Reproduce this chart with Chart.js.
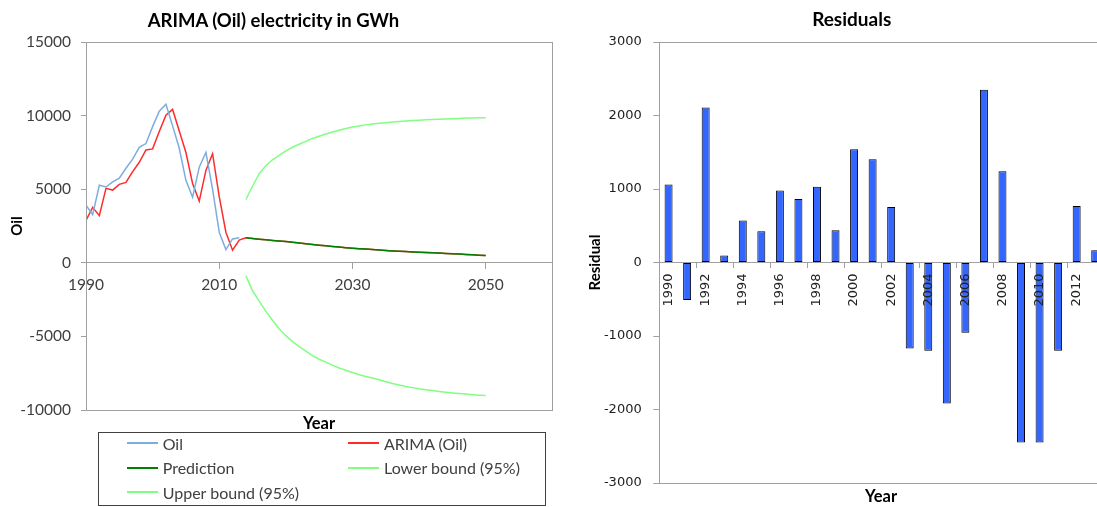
<!DOCTYPE html>
<html>
<head>
<meta charset="utf-8">
<title>ARIMA (Oil) electricity in GWh</title>
<script src="https://cdn.jsdelivr.net/npm/chart.js@4.4.1/dist/chart.umd.min.js"></script>
<style>
  html, body { margin: 0; padding: 0; background: #fff; overflow: hidden; }
  #wrap { position: relative; width: 1097px; height: 507px; overflow: hidden; background: #fff; }
  #leftCanvas { position: absolute; left: 0; top: 0; }
  #rightCanvas { position: absolute; left: 560px; top: 0; }
  .label { position: absolute; font-family: Lato, sans-serif; font-weight: bold; color: #000;
           white-space: nowrap; transform: translate(-50%, -50%); line-height: 1.2; }
  #legend { position: absolute; left: 98px; top: 432px; width: 448px; height: 74px;
            border: 1px solid #404040; box-sizing: border-box; }
  .item { position: absolute; height: 20px; display: flex; align-items: center;
          font-family: Lato, sans-serif; font-size: 16px; color: #404040; white-space: nowrap; }
  .item .swatch { display: inline-block; width: 31px; height: 2px; margin-right: 5px; }
</style>
</head>
<body>
<div id="wrap">
  <canvas id="leftCanvas" width="560" height="507"></canvas>
  <canvas id="rightCanvas" width="560" height="507"></canvas>
  <div class="label" style="left:273.5px; top:20px; font-size:18.5px;">ARIMA (Oil) electricity in GWh</div>
  <div class="label" style="left:851.7px; top:19px; font-size:19px;">Residuals</div>
  <div class="label" style="left:319px; top:424px; font-size:16.5px;">Year</div>
  <div class="label" style="left:881px; top:497px; font-size:16.5px;">Year</div>
  <div id="legend"></div>
</div>
<script>
// Observed oil electricity (GWh) and the ARIMA in-sample fit
const obsYears = [1990, 1991, 1992, 1993, 1994, 1995, 1996, 1997, 1998, 1999, 2000, 2001,
                  2002, 2003, 2004, 2005, 2006, 2007, 2008, 2009, 2010, 2011, 2012, 2013];
const oil = [3920, 3270, 5270, 5150, 5500, 5750, 6420, 7040, 7840, 8100, 9250, 10300,
             10770, 9300, 7780, 5600, 4450, 6500, 7500, 5000, 2080, 900, 1620, 1700];
const arimaFit = [2880, 3770, 3200, 5055, 4940, 5330, 5460, 6190, 6830, 7670, 7740, 8920,
                  10030, 10420, 8960, 7490, 5390, 4190, 6280, 7410, 4490, 2080, 860, 1540];

// Forecast horizon with 95% interval
const forecastYears = [2014, 2015, 2016, 2017, 2018, 2019, 2020, 2021, 2022, 2023, 2024, 2025,
                       2026, 2027, 2028, 2029, 2030, 2031, 2032, 2033, 2034, 2035, 2036, 2037,
                       2038, 2039, 2040, 2041, 2042, 2043, 2044, 2045, 2046, 2047, 2048, 2049, 2050];
const prediction = [1700, 1650, 1600, 1560, 1520, 1480, 1440, 1390, 1340, 1290, 1240, 1190,
                    1150, 1110, 1070, 1030, 990, 960, 930, 900, 870, 840, 810, 780,
                    760, 740, 720, 700, 680, 660, 640, 610, 590, 570, 540, 510, 490];
const lowerBound = [-890, -1900, -2600, -3300, -3900, -4500, -4950, -5350, -5700, -6000, -6300, -6550,
                    -6750, -6950, -7150, -7300, -7450, -7600, -7720, -7830, -7950, -8080, -8200, -8300,
                    -8400, -8480, -8560, -8620, -8680, -8740, -8790, -8840, -8880, -8920, -8960, -8990, -9020];
const upperBound = [4300, 5200, 6050, 6600, 7000, 7300, 7600, 7850, 8050, 8250, 8450, 8600,
                    8750, 8880, 9000, 9120, 9230, 9300, 9370, 9430, 9480, 9520, 9560, 9600,
                    9630, 9660, 9690, 9710, 9730, 9750, 9770, 9790, 9810, 9830, 9840, 9850, 9860];

// Year ticks shown on the forecast chart
const yearTicks = [1990, 2010, 2030, 2050];

// Residuals of the fit, one bar per year
const residualYears = ['1990', '1991', '1992', '1993', '1994', '1995', '1996', '1997', '1998', '1999',
                       '2000', '2001', '2002', '2003', '2004', '2005', '2006', '2007', '2008', '2009',
                       '2010', '2011', '2012', '2013'];
const residuals = [1060, -510, 2110, 95, 570, 425, 980, 865, 1030, 440, 1540, 1405,
                   755, -1170, -1200, -1920, -955, 2350, 1240, -2450, -2450, -1200, 770, 165];

const AXIS_GREY = '#a0a0a0';

const toPoints = (xs, ys) => xs.map((x, i) => ({ x: x, y: ys[i] }));

// Grey frame around the plot area
const plotFrame = {
  id: 'plotFrame',
  afterDraw(chart) {
    const { ctx, chartArea: a } = chart;
    ctx.save();
    ctx.strokeStyle = AXIS_GREY;
    ctx.lineWidth = 1;
    ctx.strokeRect(Math.round(a.left) + 0.5, Math.round(a.top) + 0.5,
                   Math.round(a.right - a.left), Math.round(a.bottom - a.top));
    ctx.restore();
  }
};

function lineSet(label, xs, ys, color, order) {
  return {
    label: label, data: toPoints(xs, ys), borderColor: color, backgroundColor: color,
    borderWidth: 1.5, pointRadius: 0, tension: 0, fill: false, order: order
  };
}

function build() {
  const forecastChart = new Chart(document.getElementById('leftCanvas'), {
    type: 'line',
    data: {
      datasets: [
        lineSet('Oil', obsYears, oil, '#7aaee0', 1),
        lineSet('ARIMA (Oil)', obsYears.concat(forecastYears), arimaFit.concat(prediction), '#ff2b2b', 2),
        lineSet('Prediction', forecastYears, prediction, '#008000', 0),
        lineSet('Lower bound (95%)', forecastYears, lowerBound, '#80ff80', 3),
        lineSet('Upper bound (95%)', forecastYears, upperBound, '#80ff80', 3)
      ]
    },
    options: {
      responsive: false, animation: false,
      layout: { padding: { top: 42, bottom: 97, left: 0, right: 7.7 } },
      plugins: { legend: { display: false }, tooltip: { enabled: false }, title: { display: false } },
      scales: {
        x: {
          type: 'linear', position: { y: 0 }, min: 1990, max: 2060,
          afterBuildTicks: (s) => { s.ticks = yearTicks.map(v => ({ value: v })); },
          ticks: { padding: 7, color: '#404040', font: { family: 'Lato', size: 15.5 },
                   callback: (v) => String(v), autoSkip: false, maxRotation: 0 },
          grid: { drawOnChartArea: false, tickLength: 6, color: AXIS_GREY },
          border: { color: AXIS_GREY }
        },
        y: {
          min: -10000, max: 15000,
          afterFit: (s) => { s.width = 86; },
          ticks: { stepSize: 5000, padding: 10, color: '#404040', font: { family: 'Lato', size: 15.5 },
                   callback: (v) => String(v) },
          grid: { drawOnChartArea: false, tickLength: 5, color: AXIS_GREY },
          border: { color: AXIS_GREY },
          title: { display: true, text: 'Oil', color: '#000',
                   font: { family: 'Lato', size: 15, weight: 'bold' }, padding: { top: 8, bottom: 0 } }
        }
      }
    },
    plugins: [plotFrame]
  });

  // Legend in two columns, built from the chart's datasets
  const legend = document.getElementById('legend');
  const colX = [126.7 - 99, 348 - 99];
  const rowY = [443.3 - 433, 467.7 - 433, 492.3 - 433];
  forecastChart.data.datasets.forEach((ds, i) => {
    const item = document.createElement('div');
    item.className = 'item';
    item.style.left = colX[i % 2] + 'px';
    item.style.top = (rowY[Math.floor(i / 2)] - 10) + 'px';
    const sw = document.createElement('span');
    sw.className = 'swatch';
    sw.style.background = ds.borderColor;
    const tx = document.createElement('span');
    tx.textContent = ds.label;
    item.appendChild(sw);
    item.appendChild(tx);
    legend.appendChild(item);
  });

  new Chart(document.getElementById('rightCanvas'), {
    type: 'bar',
    data: {
      labels: residualYears,
      datasets: [{
        label: 'Residual', data: residuals,
        backgroundColor: '#3366ff', borderColor: '#000000', borderWidth: 1, borderSkipped: false,
        barPercentage: 0.43, categoryPercentage: 1
      }]
    },
    options: {
      responsive: false, animation: false,
      layout: { padding: { top: 42, bottom: 24, left: 0, right: 15.5 } },
      plugins: { legend: { display: false }, tooltip: { enabled: false }, title: { display: false } },
      scales: {
        x: {
          position: { y: 0 },
          ticks: {
            z: 1, autoSkip: false, minRotation: 90, maxRotation: 90, padding: 6, color: '#222',
            font: { family: 'DejaVu Sans', size: 13 },
            callback: function (v, i) { return i % 2 === 0 ? this.getLabelForValue(v) : ''; }
          },
          grid: {
            z: 1, drawOnChartArea: false, tickLength: 5, offset: true,
            color: (c) => (c.index % 2 === 0 ? AXIS_GREY : 'rgba(0,0,0,0)')
          },
          border: { color: AXIS_GREY, z: 1 }
        },
        y: {
          min: -3000, max: 3000,
          afterFit: (s) => { s.width = 99.3; },
          ticks: { stepSize: 1000, padding: 11.6, color: '#222', font: { family: 'DejaVu Sans', size: 13 },
                   callback: (v) => String(v) },
          grid: { drawOnChartArea: false, tickLength: 6, color: AXIS_GREY },
          border: { color: AXIS_GREY },
          title: { display: true, text: 'Residual', color: '#000',
                   font: { family: 'Lato', size: 15, weight: 'bold' }, padding: { top: 26, bottom: 0 } }
        }
      }
    },
    plugins: [plotFrame]
  });
}

Promise.all([
  document.fonts.load('15px Lato'),
  document.fonts.load('bold 15px Lato'),
  document.fonts.load('13px "DejaVu Sans"')
]).then(build, build);
</script>
</body>
</html>
